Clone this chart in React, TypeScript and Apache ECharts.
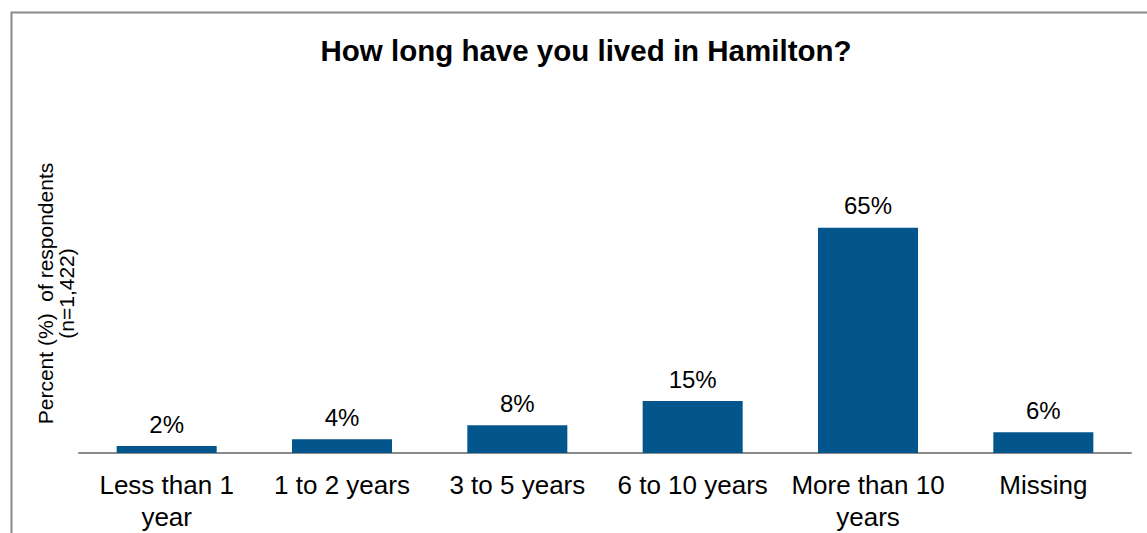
import React, { useEffect, useRef } from "react";
import * as echarts from "echarts";

const categories = ["Less than 1\nyear", "1 to 2 years", "3 to 5 years", "6 to 10 years", "More than 10\nyears", "Missing"];
const percentValues = [2, 4, 8, 15, 65, 6];
const titleText = "How long have you lived in Hamilton?";
const yAxisName = "Percent (%)  of respondents\n(n=1,422)";

const FONT = "Liberation Sans, Arial, sans-serif";

export default function App() {
  const ref = useRef<HTMLDivElement>(null);
  useEffect(() => {
    document.body.style.margin = "0";
    const chart = echarts.init(ref.current!, null, { renderer: "svg" });
    chart.setOption({
      animation: false,
      backgroundColor: "#ffffff",
      textStyle: { fontFamily: FONT },
      title: {
        text: titleText,
        left: 581,
        textAlign: "center",
        top: 30,
        textStyle: { fontSize: 29.5, fontWeight: "bold", color: "#000", fontFamily: FONT },
      },
      graphic: [
        {
          type: "rect",
          left: 9,
          top: 10,
          shape: { width: 1200, height: 600 },
          style: { fill: "none", stroke: "#8a8a8a", lineWidth: 2 },
          silent: true,
        },
        {
          type: "text",
          x: 56,
          y: 293.5,
          rotation: Math.PI / 2,
          silent: true,
          style: {
            text: yAxisName,
            fill: "#000",
            font: `21px ${FONT}`,
            fontSize: 21,
            fontFamily: FONT,
            lineHeight: 21,
            align: "center",
            verticalAlign: "middle",
          },
        },
      ],
      grid: { left: 79, right: 16, top: 210.4, bottom: 77, containLabel: false },
      xAxis: {
        type: "category",
        data: categories,
        axisLine: { show: true, lineStyle: { color: "#8a8a8a", width: 2 } },
        axisTick: { show: false },
        axisLabel: {
          interval: 0,
          color: "#000",
          fontSize: 26,
          lineHeight: 32,
          margin: 16,
          fontFamily: FONT,
        },
      },
      yAxis: {
        type: "value",
        min: 0,
        max: 70,
        axisLine: { show: false },
        axisTick: { show: false },
        axisLabel: { show: false },
        splitLine: { show: false },
      },
      series: [
        {
          type: "bar",
          data: percentValues,
          barWidth: 100,
          itemStyle: { color: "#03568c" },
          label: {
            show: true,
            position: "top",
            distance: 10,
            formatter: "{c}%",
            fontSize: 24,
            color: "#000",
            fontFamily: FONT,
          },
        },
      ],
    });
    return () => chart.dispose();
  }, []);
  return <div ref={ref} style={{ position: "fixed", left: 0, top: 0, width: 1147, height: 533 }} />;
}
